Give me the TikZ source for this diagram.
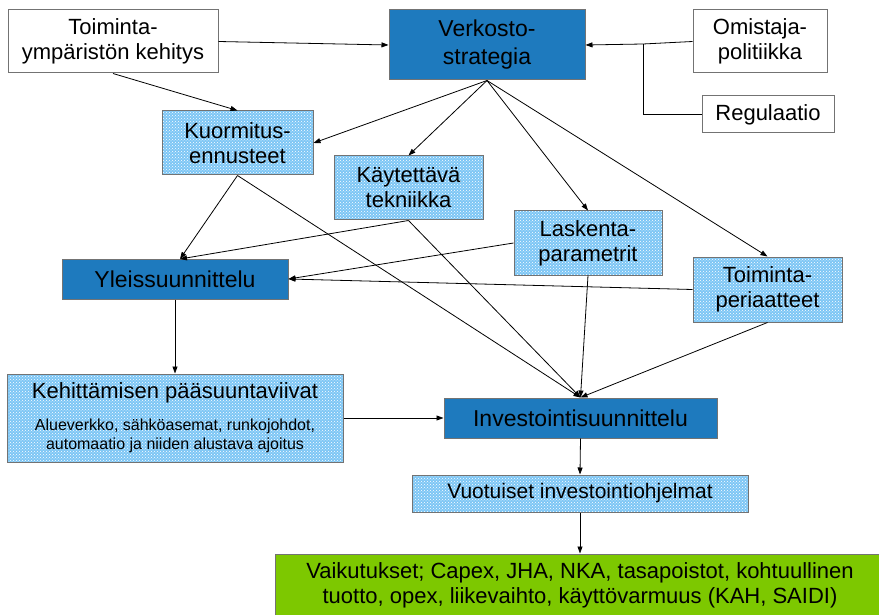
\documentclass[tikz,border=0pt]{standalone}
\usepackage{fontspec}
\setmainfont{Liberation Sans}
\usetikzlibrary{arrows.meta,patterns}
\definecolor{boxblue}{RGB}{30,122,190}
\definecolor{hatchblue}{RGB}{125,198,245}
\definecolor{leaf}{RGB}{125,200,0}
\definecolor{edgegray}{RGB}{115,115,115}
\begin{document}
\begin{tikzpicture}[x=1pt,y=-1pt,
  base/.style={draw=edgegray, line width=1pt, inner sep=0pt, align=center, font=\fontsize{22}{25}\selectfont},
  wbox/.style={base, fill=white},
  bbox/.style={base, fill=boxblue, font=\fontsize{23}{28}\selectfont},
  hbox/.style={base, preaction={fill=hatchblue}, pattern=crosshatch dots, pattern color=white},
  gbox/.style={base, fill=leaf},
  txt/.style={inner sep=0pt, align=center},
  conn/.style={draw=black, line width=0.8pt, -{Triangle[length=7pt,width=5pt]}},
  plainline/.style={draw=black, line width=0.8pt}]
\useasboundingbox (0,0) rectangle (879,615);
\clip (0,0) rectangle (879,615);

\node[wbox, minimum width=210pt, minimum height=63pt] (tyk) at (113,41.5) {Toiminta-\\ympäristön kehitys};
\node[bbox, minimum width=196pt, minimum height=70pt] (vs) at (487,45) {Verkosto-\\strategia};
\node[wbox, minimum width=134pt, minimum height=63pt] (om) at (760,41.5) {Omistaja-\\politiikka};
\node[wbox, minimum width=132pt, minimum height=37pt] (reg) at (768,114.5) {Regulaatio};
\node[hbox, minimum width=151pt, minimum height=64pt] (ku) at (237.5,143) {Kuormitus-\\ennusteet};
\node[hbox, minimum width=149pt, minimum height=64pt] (kt) at (408.5,188) {Käytettävä\\tekniikka};
\node[hbox, minimum width=148pt, minimum height=64pt] (la) at (588,243) {Laskenta-\\parametrit};
\node[hbox, minimum width=149pt, minimum height=65pt] (tp) at (767.5,289.5) {Toiminta-\\periaatteet};
\node[bbox, minimum width=226pt, minimum height=40pt] (yl) at (175,279) {Yleissuunnittelu};
\node[hbox, minimum width=336pt, minimum height=88pt] (ke) at (175,418) {};
\node[txt, font=\fontsize{22}{25}\selectfont] (ket) at (175,393) {Kehittämisen pääsuuntaviivat};
\node[txt, font=\fontsize{16}{19}\selectfont] (kes) at (175,436) {Alueverkko, sähköasemat, runkojohdot,\\automaatio ja niiden alustava ajoitus};
\node[bbox, minimum width=273pt, minimum height=40pt] (inv) at (580.5,418) {Investointisuunnittelu};
\node[hbox, minimum width=336pt, minimum height=37pt, font=\fontsize{21}{25}\selectfont] (vu) at (580,493.5) {Vuotuiset investointiohjelmat};
\node[gbox, minimum width=610pt, minimum height=63pt] (gr) at (580,585.5) {Vaikutukset; Capex, JHA, NKA, tasapoistot, kohtuullinen\\tuotto, opex, liikevaihto, käyttövarmuus (KAH, SAIDI)};

\coordinate (j) at (643,44);
\coordinate (yin) at (180,259);

\draw[conn] (tyk.east) -- (vs.west);
\draw[conn] (om.west) -- (j) -- (vs.east);
\draw[plainline] (reg.west) -| (j);
\draw[conn] (tyk.south) -- (ku.north);
\draw[conn] (vs.south) -- (ku.east);
\draw[conn] (vs.south) -- (kt.north);
\draw[conn] (vs.south) -- (la.north);
\draw[conn] (vs.south) -- (tp.north);
\draw[conn] (ku.south) -- (yin);
\draw[conn] (kt.south) -- (yin);
\draw[conn] (ku.south) -- (inv.north);
\draw[conn] (kt.south) -- (inv.north);
\draw[conn] (la.south) -- (inv.north);
\draw[conn] (tp.south) -- (inv.north);
\draw[conn] (la.west) -- (yl.east);
\draw[conn] (tp.west) -- (yl.east);
\draw[conn] (yl.south) -- (ke.north);
\draw[conn] (ke.east) -- (inv.west);
\draw[conn] (inv.south) -- (vu.north);
\draw[conn] (vu.south) -- (gr.north);
\end{tikzpicture}
\end{document}
